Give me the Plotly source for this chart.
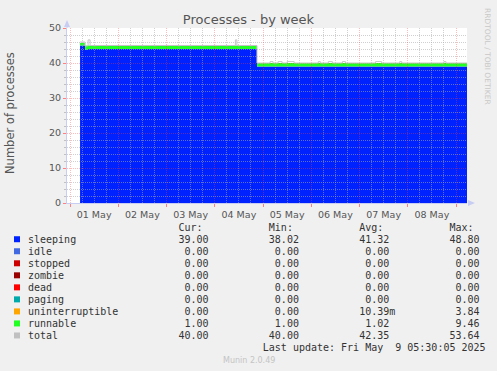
import plotly.graph_objects as go
import pandas as pd

# ---------------- data ----------------
TITLE = "Processes - by week"
Y_TITLE = "Number of processes"

times = [
    "2025-05-01 05:00", "2025-05-01 07:30", "2025-05-01 09:00", "2025-05-01 10:00",
    "2025-05-04 10:15", "2025-05-04 11:00", "2025-05-04 21:00",
    "2025-05-05 03:30", "2025-05-05 05:00", "2025-05-05 07:30", "2025-05-05 09:30",
    "2025-05-05 12:00", "2025-05-05 15:30",
    "2025-05-06 03:30", "2025-05-06 04:30", "2025-05-06 08:30", "2025-05-06 10:30",
    "2025-05-06 15:30", "2025-05-06 17:00",
    "2025-05-07 08:00", "2025-05-07 11:00", "2025-05-07 20:00", "2025-05-07 21:00",
    "2025-05-08 18:00", "2025-05-08 19:00", "2025-05-09 05:30",
]
sleeping = [45.0, 43.7, 44.0, 44.0,
            44.0, 44.0, 39.0,
            39.0, 39.0, 39.0, 39.0,
            39.0, 39.0,
            39.0, 39.0, 39.0, 39.0,
            39.0, 39.0,
            39.0, 39.0, 39.0, 39.0,
            39.0, 39.0, 39.0]
runnable = [0.7, 1.2, 1.0, 1.0,
            1.0, 1.0, 1.0,
            1.0, 1.0, 1.0, 1.0,
            1.0, 1.0,
            1.0, 1.0, 1.0, 1.0,
            1.0, 1.0,
            1.0, 1.0, 1.0, 1.0,
            1.0, 1.0, 1.0]
total = [46.0, 44.9, 46.6, 45.0,
         46.6, 45.0, 40.0,
         40.4, 40.0, 40.4, 40.0,
         40.4, 40.0,
         40.4, 40.0, 40.4, 40.0,
         40.4, 40.0,
         40.4, 40.0, 40.4, 40.0,
         40.4, 40.0, 40.0]

legend_names = ["sleeping", "idle", "stopped", "zombie", "dead", "paging",
                "uninterruptible", "runnable", "total"]
legend_colors = ["#0022ff", "#4169e1", "#cc0000", "#990000", "#ff0000",
                 "#00aaaa", "#ffa500", "#22ff22", "#c0c0c0"]
cur_vals = ["39.00", "0.00", "0.00", "0.00", "0.00", "0.00", "0.00", "1.00", "40.00"]
min_vals = ["38.02", "0.00", "0.00", "0.00", "0.00", "0.00", "0.00", "1.00", "40.00"]
avg_vals = ["41.32", "0.00", "0.00", "0.00", "0.00", "0.00", "10.39m", "1.02", "42.35"]
max_vals = ["48.80", "0.00", "0.00", "0.00", "0.00", "0.00", "3.84", "9.46", "53.64"]
headers = ["Cur:", "Min:", "Avg:", "Max:"]
last_update = "Last update: Fri May  9 05:30:05 2025"
footer = "Munin 2.0.49"
watermark = "RRDTOOL / TOBI OETIKER"

# ---------------- layout geometry ----------------
W, H = 497, 371
L, R, T, B = 67, 467, 28, 203
PX_PER_DAY = 48.25
MIDNIGHT_PX = 70


def px_x(p):
    return (p - L) / (R - L)


def px_y(p):
    return (B - p) / (B - T)


day0 = pd.Timestamp("2025-05-01 00:00")
x_start = day0 - pd.Timedelta(days=(MIDNIGHT_PX - L) / PX_PER_DAY)
x_end = x_start + pd.Timedelta(days=(R - L) / PX_PER_DAY)

MAJOR_GRID = "rgba(255,60,60,0.35)"
MINOR_GRID = "rgba(170,170,170,0.55)"
AXIS_COL = "#c8cdf3"
TEXT_COL = "#555555"
LEG_COL = "#333333"

fig = go.Figure()
fig.add_trace(go.Scatter(x=times, y=sleeping, stackgroup="s", mode="lines",
                         line=dict(width=0, shape="hv"), fillcolor="#0022ff",
                         hoverinfo="skip", showlegend=False))
fig.add_trace(go.Scatter(x=times, y=runnable, stackgroup="s", mode="lines",
                         line=dict(width=0, shape="hv"), fillcolor="#22ff22",
                         hoverinfo="skip", showlegend=False))
fig.add_trace(go.Scatter(x=times, y=total, mode="lines", xaxis="x2", yaxis="y2",
                         line=dict(width=1, shape="hv", color="#c4c4c4"),
                         hoverinfo="skip", showlegend=False))

xcommon = dict(type="date", range=[x_start, x_end], tick0="2025-05-01",
               dtick=86400000, zeroline=False, fixedrange=True)
ycommon = dict(range=[0, 50], dtick=10, tick0=0, zeroline=False, fixedrange=True)

fig.update_layout(
    width=W, height=H,
    margin=dict(l=L, r=W - R, t=T, b=H - B, pad=0),
    paper_bgcolor="#f0f0f0", plot_bgcolor="rgba(0,0,0,0)",
    font=dict(family="DejaVu Sans", color=TEXT_COL),
    title=dict(text=TITLE, x=0.5, xref="container", xanchor="center",
               y=1 - 19 / H, yref="container", yanchor="middle",
               font=dict(family="DejaVu Sans", size=13, color=TEXT_COL)),
    xaxis=dict(**xcommon, showgrid=False, ticklabelmode="period", tickformat="%d %b",
               ticks="outside", ticklen=3, tickcolor="#ff8080",
               tickfont=dict(size=9.5, color=TEXT_COL),
               showline=True, linecolor=AXIS_COL, linewidth=1, layer="above traces"),
    yaxis=dict(**ycommon, showgrid=False, ticks="outside", ticklen=3, tickcolor="#ff8080",
               tickfont=dict(size=9.5, color=TEXT_COL),
               minor=dict(dtick=2, ticks="outside", ticklen=2, tickcolor="#c0c0c0"),
               showline=True, linecolor=AXIS_COL, linewidth=1, layer="above traces"),
    xaxis2=dict(**xcommon, anchor="y2", domain=[0, 1], showticklabels=False, ticks="",
                showgrid=True, gridcolor=MAJOR_GRID, griddash="1px,1px", gridwidth=1,
                minor=dict(dtick=6 * 3600000, showgrid=True, gridcolor=MINOR_GRID,
                           griddash="1px,1px", gridwidth=1),
                showline=False),
    yaxis2=dict(**ycommon, anchor="x2", domain=[0, 1], showticklabels=False, ticks="",
                showgrid=True, gridcolor=MAJOR_GRID, griddash="1px,1px", gridwidth=1,
                minor=dict(dtick=2, showgrid=True, gridcolor=MINOR_GRID,
                           griddash="1px,1px", gridwidth=1),
                showline=False),
)

NB = "\u00a0"


def fmt_row(name, vals):
    s = name.ljust(22)
    carry = 0
    for v, w in zip(vals, [8, 15, 15, 15]):
        num = v.rstrip("kmMG")
        suf = v[len(num):]
        s += num.rjust(w - carry) + suf
        carry = len(suf)
    return s.replace(" ", NB)


header = (" " * 25 + headers[0] + " " * 11 + headers[1] + " " * 11 + headers[2]
          + " " * 11 + headers[3]).replace(" ", NB)

ROW0 = 227.2
ROW_H = 12.03
TEXT_X = 26
mono = dict(family="DejaVu Sans Mono", size=10, color=LEG_COL)

annotations = []
shapes = []
# white plot background, drawn beneath the traces
shapes.append(dict(type="rect", xref="paper", yref="paper", layer="below",
                   x0=0, x1=1, y0=0, y1=1, fillcolor="#ffffff", line=dict(width=0)))

annotations.append(dict(text=header, x=px_x(TEXT_X), y=px_y(ROW0), xref="paper", yref="paper",
                        xanchor="left", yanchor="middle", showarrow=False, font=mono))
for i, name in enumerate(legend_names):
    yc = ROW0 + ROW_H * (i + 1)
    annotations.append(dict(text=fmt_row(name, [cur_vals[i], min_vals[i], avg_vals[i], max_vals[i]]),
                            x=px_x(TEXT_X), y=px_y(yc), xref="paper", yref="paper",
                            xanchor="left", yanchor="middle", showarrow=False, font=mono))
    shapes.append(dict(type="rect", xref="paper", yref="paper",
                       x0=px_x(14), x1=px_x(20), y0=px_y(yc - 3), y1=px_y(yc + 3),
                       fillcolor=legend_colors[i], line=dict(width=0)))
annotations.append(dict(text=(" " * 39 + last_update).replace(" ", NB),
                        x=px_x(TEXT_X), y=px_y(ROW0 + ROW_H * 10), xref="paper", yref="paper",
                        xanchor="left", yanchor="middle", showarrow=False, font=mono))
annotations.append(dict(text=footer, x=px_x(W / 2), xref="paper", y=px_y(360), yref="paper",
                        xanchor="center", yanchor="middle", showarrow=False,
                        font=dict(family="DejaVu Sans", size=8, color="#c4c4c4")))
annotations.append(dict(text=Y_TITLE, x=px_x(10), y=px_y(113), xref="paper", yref="paper",
                        xanchor="center", yanchor="middle", textangle=-90, showarrow=False,
                        font=dict(family="DejaVu Sans", size=11.5, color=TEXT_COL)))
annotations.append(dict(text=watermark, x=px_x(488), y=px_y(56), xref="paper", yref="paper",
                        xanchor="center", yanchor="middle", textangle=90, showarrow=False,
                        font=dict(family="DejaVu Sans", size=7.5, color="#c8c8c8")))

# axis arrows
shapes.append(dict(type="path", xref="paper", yref="paper", layer="above",
                   path=f"M {px_x(64)} {px_y(27)} L {px_x(67)} {px_y(20)} L {px_x(70)} {px_y(27)} Z",
                   fillcolor=AXIS_COL, line=dict(width=0)))
shapes.append(dict(type="line", xref="paper", yref="paper", layer="above",
                   x0=px_x(67), x1=px_x(67), y0=px_y(T), y1=px_y(25),
                   line=dict(color=AXIS_COL, width=1)))
shapes.append(dict(type="path", xref="paper", yref="paper", layer="above",
                   path=f"M {px_x(468)} {px_y(200)} L {px_x(475)} {px_y(203)} L {px_x(468)} {px_y(206)} Z",
                   fillcolor=AXIS_COL, line=dict(width=0)))

fig.update_layout(annotations=annotations, shapes=shapes)
fig.write_html("out.html")
